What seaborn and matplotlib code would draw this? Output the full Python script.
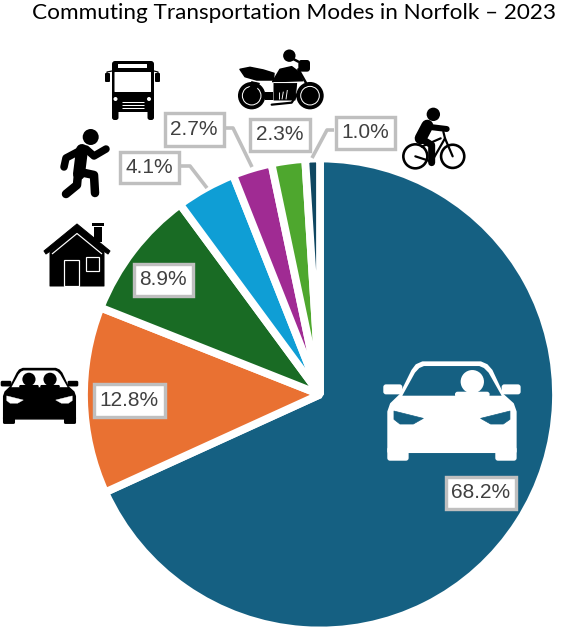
import matplotlib
matplotlib.use("Agg")
import matplotlib.pyplot as plt
import seaborn as sns
from matplotlib.patches import Circle, Polygon, Rectangle, FancyBboxPatch

modes = ["Drive alone", "Carpool", "Work from home", "Walk", "Transit", "Other", "Bike"]
shares = [68.2, 12.8, 8.9, 4.1, 2.7, 2.3, 1.0]
slice_colors = ["#156082", "#E97132", "#196B24", "#0F9ED5", "#A02B93", "#4EA72E", "#0F4761"]
title = "Commuting Transportation Modes in Norfolk \u2013 2023"

# label boxes in pixels: left, top, right, bottom
label_boxes = [(444, 475, 517, 510), (92, 382, 166, 418), (132, 262, 194, 297),
               (118, 150, 180, 184), (163, 111, 225, 147), (248, 117, 311, 152), (334, 115, 396, 150)]
leaders = {3: [(180, 166), (190, 166), (207, 188)],
           4: [(225, 128), (233, 128), (252, 167)],
           6: [(334, 130), (327, 130), (312, 158)]}

W, H = 584, 634
sns.set_theme(style="white")
fig = plt.figure(figsize=(W / 100, H / 100), dpi=100, facecolor="white")
ax = fig.add_axes([0, 0, 1, 1])

PT = 0.72


def Y(y):
    return H - y


def poly(pts, fc="black", lw=0, z=5, ec=None):
    ax.add_patch(Polygon([(x, Y(y)) for x, y in pts], closed=True, fc=fc, ec=ec or fc,
                         lw=lw * PT, joinstyle="round", zorder=z))


def circ(x, y, r, fc="black", ec="none", lw=0, z=5):
    ax.add_patch(Circle((x, Y(y)), r, fc=fc, ec=ec, lw=lw * PT, zorder=z))


def rrect(x0, y0, x1, y1, r=1.5, fc="black", ec="none", lw=0, z=5):
    ax.add_patch(FancyBboxPatch((x0 + r, Y(y1) + r), x1 - x0 - 2 * r, y1 - y0 - 2 * r,
                                boxstyle=f"round,pad={r},rounding_size={r}",
                                fc=fc, ec=ec, lw=lw * PT, zorder=z))


def line(pts, c="black", lw=2, z=5, cap="round"):
    ax.plot([p[0] for p in pts], [Y(p[1]) for p in pts], color=c, lw=lw * PT, zorder=z,
            solid_capstyle=cap, solid_joinstyle="round")


palette = sns.color_palette(slice_colors)
ax.pie(shares, colors=palette, startangle=90, counterclock=False, center=(320, Y(394.5)), radius=236,
       wedgeprops=dict(edgecolor="white", linewidth=5.6, joinstyle="bevel"))
ax.set_xlim(0, W)
ax.set_ylim(0, H)
ax.set_aspect("equal")
ax.axis("off")

ax.text(294, Y(13), title, family="Lato", fontsize=16.2, color="black", ha="center", va="center", zorder=8)

# value labels
for i, (v, b) in enumerate(zip(shares, label_boxes)):
    if i in leaders:
        line(leaders[i], c="#BFBFBF", lw=3.6, z=6, cap="butt")
    l, t, r, bt = b
    ax.add_patch(Rectangle((l + 1.5, Y(bt) + 1.5), r - l - 3, bt - t - 3, fc="white", ec="#BFBFBF",
                           lw=3.4 * PT, zorder=7))
    ax.text((l + r) / 2, Y((t + bt) / 2 + 0.3), f"{v:.1f}%", family="Liberation Sans", fontsize=15,
            color="#404040", ha="center", va="center", zorder=8)


def car(x0, y0, s, fg, bg, passengers):
    m = lambda x, y: (x0 + s * (x - 40) / 3, y0 + s * (y - 65) / 3)
    M = lambda pts: [m(*p) for p in pts]
    k = s / 3
    poly(M([(56, 335), (56, 215), (64, 192), (92, 165), (128, 92), (140, 76), (158, 68), (332, 68), (350, 76),
            (364, 92), (398, 165), (428, 192), (436, 215), (436, 335)]), fc=fg, lw=8 * k)
    for a, b in (((52, 320), (116, 362)), ((376, 320), (440, 362)), ((40, 133), (97, 163)), ((395, 133), (452, 163))):
        p, q = m(*a), m(*b)
        rrect(p[0], p[1], q[0], q[1], r=8 * k, fc=fg)
    poly(M([(97, 167), (135, 98), (148, 84), (162, 78), (328, 78), (342, 84), (356, 98), (395, 167)]), fc=bg, z=5.1)
    for hx in passengers:
        c = m(hx, 125)
        circ(c[0], c[1], 35 * k, fc=fg, z=5.2)
        a = m(hx - 52, 155)
        b = m(hx + 52, 172)
        rrect(a[0], a[1], b[0], b[1], r=8 * k, fc=fg, z=5.2)
    poly(M([(72, 213), (160, 235), (130, 252), (90, 252), (72, 238)]), fc=bg, z=5.2, lw=2 * k)
    poly(M([(420, 213), (332, 235), (362, 252), (400, 252), (420, 238)]), fc=bg, z=5.2, lw=2 * k)


# big white car in the blue slice
car(383.3, 361.7, 1.0, "white", "#156082", [307])
# carpool car: two passengers
car(0.7, 368, 0.565, "black", "white", [190, 302])

# bus
rrect(112, 61, 154, 112, r=3)
rrect(112, 108, 118.5, 120, r=2.5)
rrect(147.5, 108, 154, 120, r=2.5)
rrect(105, 73, 110, 82, r=1)
rrect(155, 73, 160, 82, r=1)
line([(107, 74), (107, 72), (112, 71)], lw=1.2)
line([(158, 74), (158, 72), (154, 71)], lw=1.2)
rrect(114.5, 72, 151, 92, r=0.5, fc="white", z=5.1)
rrect(118, 64, 147, 68, r=0.3, fc="white", z=5.1)
circ(115.5, 99, 2, fc="white", z=5.1)
circ(149, 99, 2, fc="white", z=5.1)
for gy in (101.5, 104.5, 107.5):
    line([(122, gy), (144, gy)], c="white", lw=1, z=5.1, cap="butt")

# runner
circ(90.7, 137, 8)
line([(82, 150), (79, 174)], lw=12)
line([(83, 149), (66, 158), (64, 167)], lw=7.5)
line([(86, 149), (94, 156), (106, 149)], lw=7.5)
line([(80, 172), (94, 175), (95, 193)], lw=8.5)
line([(78, 174), (77, 185), (66, 194)], lw=8.5)

# house
poly([(50, 252), (77, 231), (104, 252), (104, 286), (50, 286)], lw=1)
poly([(44, 251), (77, 224), (110, 251), (108, 254), (77, 232.5), (46, 254)], lw=1, z=5.2)
line([(52, 254), (77, 233.5), (102, 254)], c="white", lw=1.2, z=5.3, cap="butt")
ax.add_patch(Rectangle((94, Y(242)), 8, 15, fc="black", ec="none", zorder=5))
ax.add_patch(Rectangle((92, Y(226)), 12, 3, fc="black", ec="none", zorder=5))
ax.add_patch(Rectangle((63.5, Y(286)), 15.5, 26.5, fc="black", ec="white", lw=1.2 * PT, zorder=5.2))
ax.add_patch(Rectangle((85.5, Y(271)), 13.5, 14, fc="black", ec="white", lw=1.2 * PT, zorder=5.2))


# motorcycle and bicycle, drawn in zoom-grid units
def Zm(x, y):
    return (230 + x / 3, 30 + y / 3)


def Zs(pts):
    return [Zm(*p) for p in pts]


for cx in (65, 240):
    c = Zm(cx, 197)
    circ(c[0], c[1], 13.7)
    circ(c[0], c[1], 9.3, fc="none", ec="white", lw=1, z=5.4)
poly(Zs([(30, 118), (60, 112), (100, 120), (132, 130), (130, 150), (80, 150), (45, 140)]), lw=1.5)
poly(Zs([(128, 155), (150, 118), (185, 110), (205, 125), (218, 152)]), lw=1.5)
poly(Zs([(132, 160), (200, 160), (195, 210), (132, 210)]), lw=1)
poly(Zs([(105, 185), (130, 185), (130, 210), (105, 210)]))
poly(Zs([(65, 155), (88, 160), (70, 195), (55, 190)]), z=5.5, lw=1)
line(Zs([(125, 224), (185, 218), (205, 188)]), lw=2.2)
line(Zs([(205, 118), (240, 180)]), lw=2.5)
line(Zs([(186, 85), (205, 95)]), lw=2.5)
c = Zm(178, 77)
circ(c[0], c[1], 6.2)
a, b = Zm(205, 90), Zm(240, 125)
rrect(a[0], a[1], b[0], b[1], r=3)
line(Zs([(128, 156), (200, 156)]), c="white", lw=0.9, z=5.6, cap="butt")
line(Zs([(146, 185), (146, 208)]), c="white", lw=0.9, z=5.6, cap="butt")
line(Zs([(160, 185), (156, 208)]), c="white", lw=0.9, z=5.6, cap="butt")
line(Zs([(172, 180), (168, 208)]), c="white", lw=0.9, z=5.6, cap="butt")

c = Zm(610, 253)
circ(c[0], c[1], 6.7)
for cx, r in ((556, 12), (668, 11.6)):
    c = Zm(cx, 379)
    circ(c[0], c[1], r, fc="none", ec="black", lw=2.6)
line(Zs([(556, 379), (605, 395), (645, 325), (668, 379)]), lw=2.2)
line(Zs([(575, 350), (632, 325)]), lw=2.2)
line(Zs([(592, 287), (572, 325)]), lw=12)
line(Zs([(592, 290), (650, 297)]), lw=6)
line(Zs([(572, 325), (605, 345), (605, 398)]), lw=7)
line(Zs([(640, 305), (645, 325)]), lw=2.2)

fig.savefig("out.png", dpi=100, facecolor="white")
